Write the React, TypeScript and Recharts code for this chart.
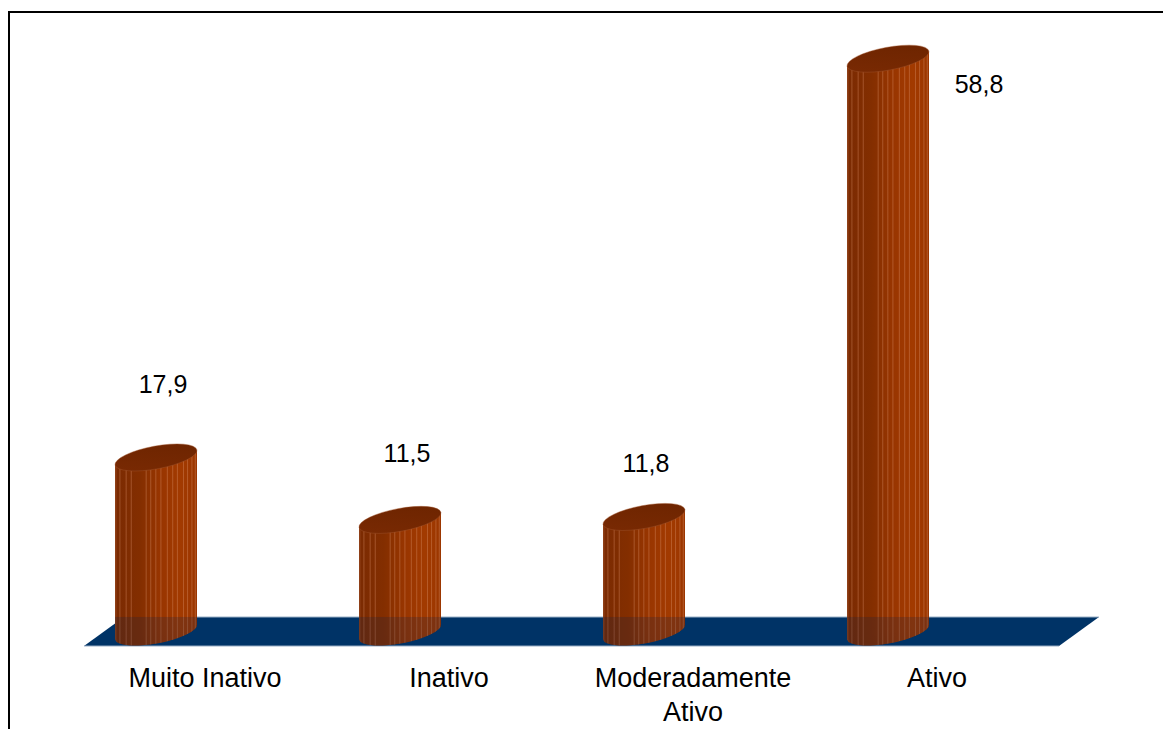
import React from 'react';
import { BarChart, Bar, XAxis, YAxis, LabelList, ReferenceArea } from 'recharts';

const categories = ['Muito Inativo', 'Inativo', 'Moderadamente Ativo', 'Ativo'];
const percentages = [17.9, 11.5, 11.8, 58.8];

const data = categories.map((name, i) => ({ name, value: percentages[i] }));

// where each value label sits relative to the top of its cylinder
const labelShift = [
  { dx: 7, dy: -64 },
  { dx: 7, dy: -58 },
  { dx: 2, dy: -45 },
  { dx: 91, dy: 34 },
];

// light vertical streaks across the cylinder body (fraction of bar width)
const streaks = [0.06, 0.136, 0.198, 0.38, 0.436, 0.498, 0.56, 0.638, 0.704, 0.761, 0.835, 0.885, 0.938, 0.979];

const FONT = '"Liberation Sans", Arial, sans-serif';
const FLOOR_TOP = 1.54; // floor slab in value units above/below the baseline
const FLOOR_BOTTOM = -1.44;

const Cylinder = (props: any) => {
  const { x, y, width, height, index, value } = props;
  if (!height || height <= 0) return null;
  const cx = x + width / 2;
  const w = width / 2;
  const a = w * 1.015;
  const b = w * 0.278;
  const rot = -10.5;
  const rad = (rot * Math.PI) / 180;
  const ey = ((a * a - b * b) * Math.sin(rad) * Math.cos(rad)) / w;
  const top = y;
  const base = y + height;
  const pxPerUnit = height / value;
  const floorTop = base - FLOOR_TOP * pxPerUnit;

  const body = `M${cx - w},${top - ey} L${cx + w},${top + ey} L${cx + w},${base + ey} L${cx - w},${base - ey} Z`;
  const gid = `cyl-grad-${index}`;
  const tid = `cyl-top-${index}`;
  const cid = `cyl-clip-${index}`;

  return (
    <g>
      <defs>
        <linearGradient id={gid} x1="0" y1="0" x2="1" y2="0">
          <stop offset="0" stopColor="#93441c" />
          <stop offset="0.03" stopColor="#7c2b02" />
          <stop offset="0.3" stopColor="#832e00" />
          <stop offset="0.55" stopColor="#983500" />
          <stop offset="0.8" stopColor="#a23a00" />
          <stop offset="1" stopColor="#9b3600" />
        </linearGradient>
        <linearGradient id={tid} x1="0" y1="1" x2="1" y2="0">
          <stop offset="0" stopColor="#7a2a03" />
          <stop offset="1" stopColor="#6c2400" />
        </linearGradient>
        <clipPath id={cid}>
          <path d={body} />
          <ellipse cx={cx} cy={base} rx={a} ry={b} transform={`rotate(${rot} ${cx} ${base})`} />
        </clipPath>
      </defs>
      <ellipse cx={cx} cy={base} rx={a} ry={b} transform={`rotate(${rot} ${cx} ${base})`} fill={`url(#${gid})`} />
      <path d={body} fill={`url(#${gid})`} />
      <g clipPath={`url(#${cid})`}>
        {streaks.map((f, i) => (
          <line
            key={i}
            x1={cx - w + f * width}
            x2={cx - w + f * width}
            y1={top - 20}
            y2={base + 20}
            stroke="#d9906a"
            strokeOpacity={0.4}
            strokeWidth={1}
          />
        ))}
        <rect x={cx - w - 2} y={floorTop} width={width + 4} height={base - floorTop + 20} fill="#0b2248" fillOpacity={0.22} />
      </g>
      <ellipse
        cx={cx}
        cy={top}
        rx={a}
        ry={b}
        transform={`rotate(${rot} ${cx} ${top})`}
        fill={`url(#${tid})`}
        stroke="#a0542c"
        strokeOpacity={0.5}
        strokeWidth={0.8}
      />
    </g>
  );
};

const Floor = (props: any) => {
  const { x, y, width, height } = props;
  const skew = 40;
  const left = x + 50;
  const right = x + width + 49;
  const bottom = y + height;
  return (
    <g>
      <polygon
        points={`${left},${bottom} ${left + skew},${y} ${right + skew},${y} ${right},${bottom}`}
        fill="#003366"
      />
      <line x1={left + skew} x2={right + skew} y1={y} y2={y} stroke="#9fb3c8" strokeWidth={1} />
      <line x1={left} x2={right} y1={bottom} y2={bottom} stroke="#9fb3c8" strokeWidth={1} />
    </g>
  );
};

const ValueLabel = (props: any) => {
  const { x, y, width, value, index } = props;
  const s = labelShift[index] || { dx: 0, dy: -20 };
  return (
    <text x={x + width / 2 + s.dx} y={y + s.dy} textAnchor="middle" fontSize={25} fontFamily={FONT} fill="#000">
      {Number(value).toFixed(1).replace('.', ',')}
    </text>
  );
};

// long category names break onto a second line at the last space
const splitLabel = (label: string) => {
  if (label.length <= 14) return [label];
  const cut = label.lastIndexOf(' ');
  return [label.slice(0, cut), label.slice(cut + 1)];
};

const CategoryTick = (props: any) => {
  const { x, y, payload } = props;
  const lines = splitLabel(String(payload.value));
  return (
    <text x={x + 49} y={y + 55} textAnchor="middle" fontSize={27} fontFamily={FONT} fill="#000">
      {lines.map((line, i) => (
        <tspan key={i} x={x + 49} dy={i === 0 ? 0 : 34}>
          {line}
        </tspan>
      ))}
    </text>
  );
};

export default function App() {
  return (
    <div style={{ position: 'relative', width: 1163, height: 729, background: '#fff', overflow: 'hidden' }}>
      <style>{'body{margin:0}'}</style>
      <BarChart width={1163} height={729} data={data} margin={{ top: 47, right: 153, bottom: 67, left: 34 }}>
        <YAxis hide domain={[0, 60]} />
        <XAxis
          dataKey="name"
          height={30}
          axisLine={false}
          tickLine={false}
          tickSize={0}
          tickMargin={0}
          interval={0}
          tick={<CategoryTick />}
        />
        <ReferenceArea
          x1={categories[0]}
          x2={categories[categories.length - 1]}
          y1={FLOOR_BOTTOM}
          y2={FLOOR_TOP}
          ifOverflow="visible"
          shape={<Floor />}
          zIndex={-60}
        />
        <Bar dataKey="value" barSize={82} shape={<Cylinder />} isAnimationActive={false}>
          <LabelList dataKey="value" content={<ValueLabel />} />
        </Bar>
      </BarChart>
      <div
        style={{
          position: 'absolute',
          left: 8,
          top: 11,
          width: 1200,
          height: 800,
          borderTop: '2.5px solid #000',
          borderLeft: '2.5px solid #000',
          pointerEvents: 'none',
        }}
      />
    </div>
  );
}
